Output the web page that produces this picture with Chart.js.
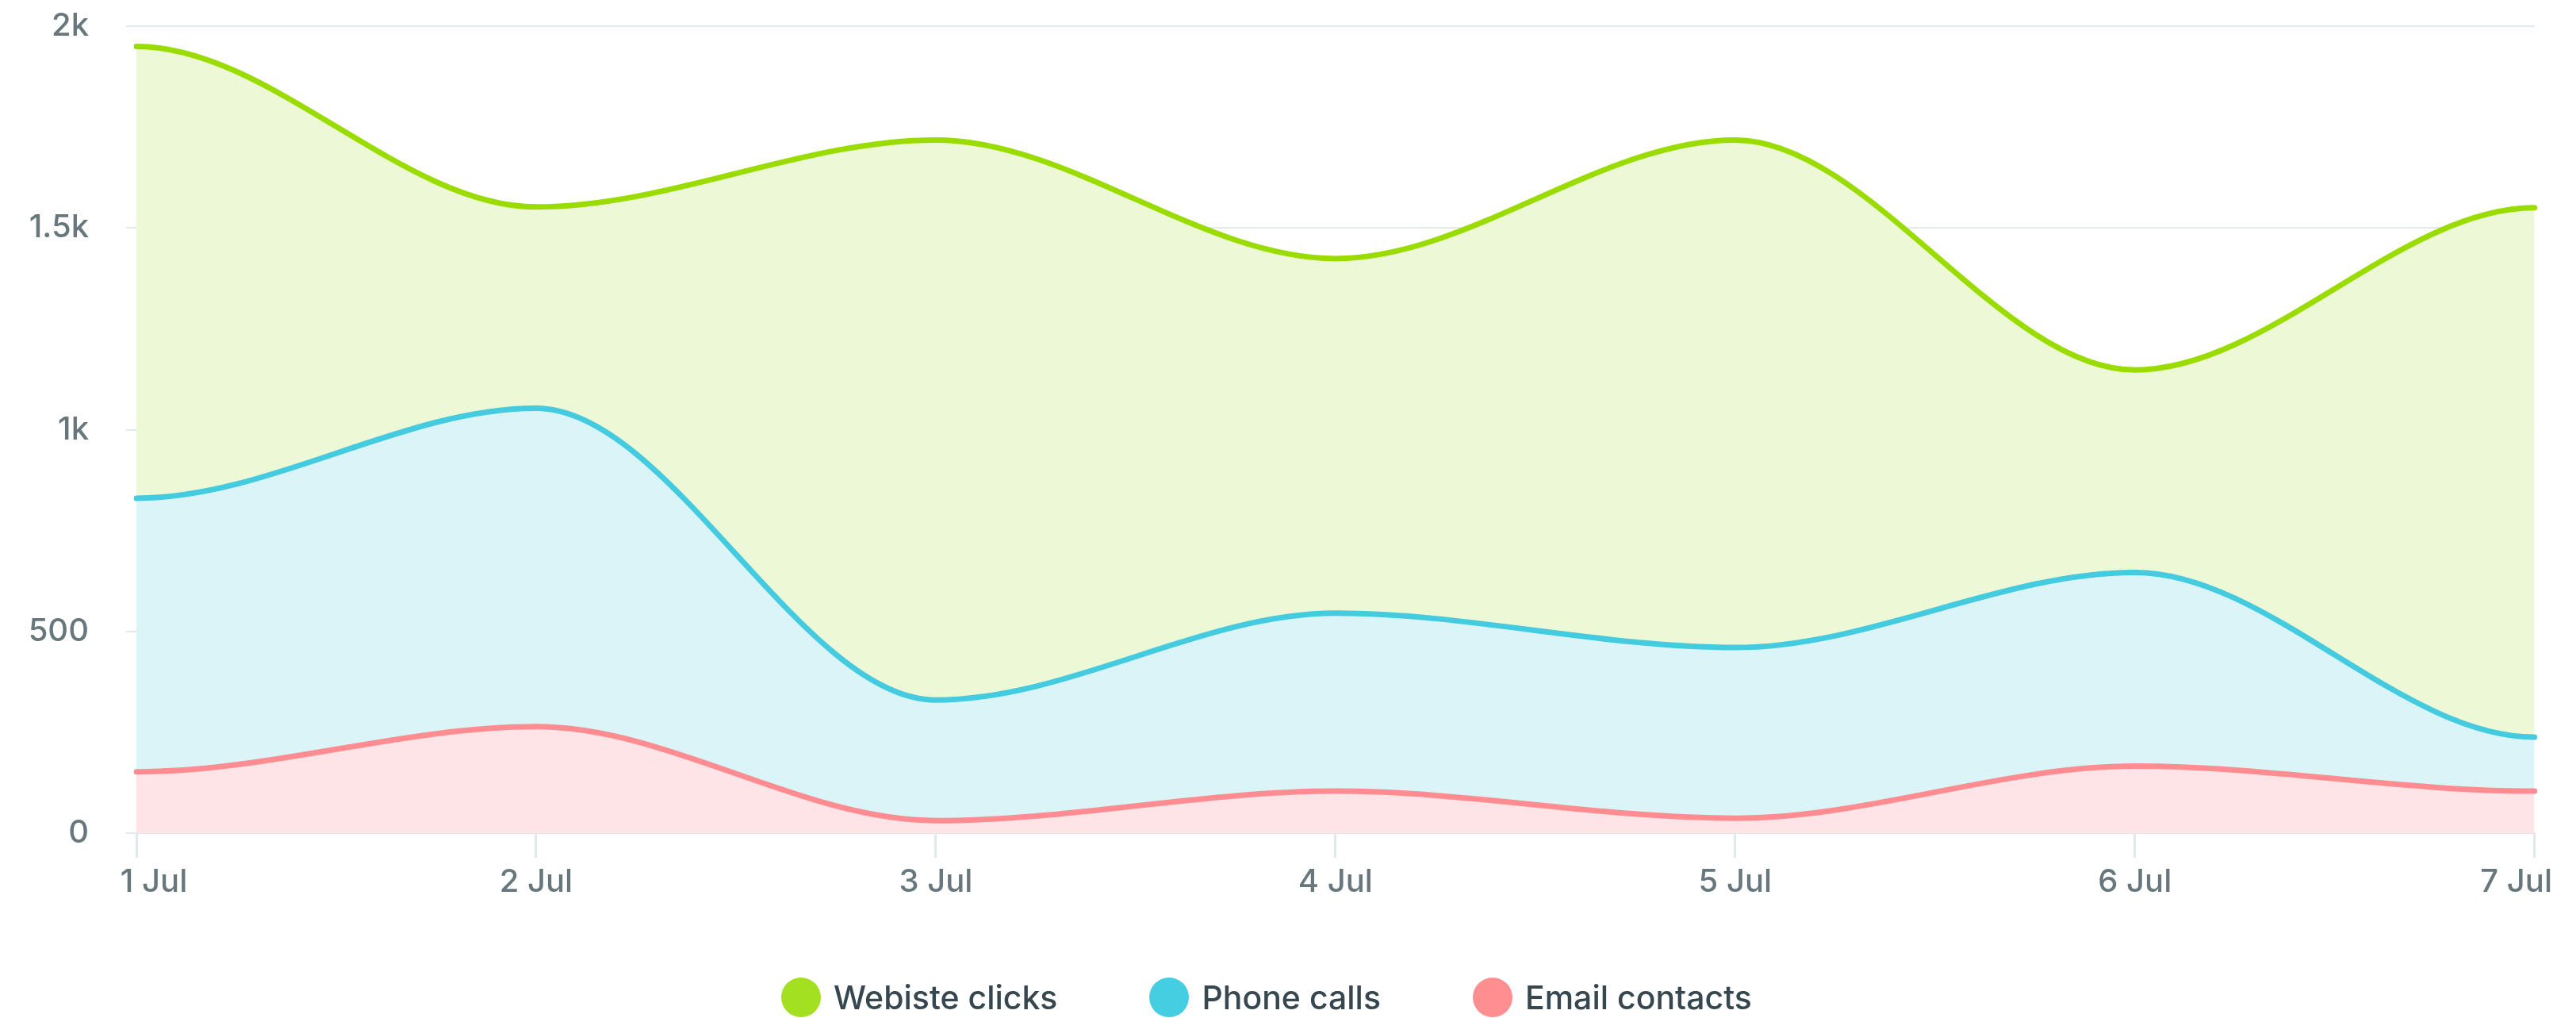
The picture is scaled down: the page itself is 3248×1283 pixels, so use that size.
<!DOCTYPE html>
<html>
<head>
<meta charset="utf-8">
<script src="https://cdn.jsdelivr.net/npm/chart.js@4.4.1/dist/chart.umd.min.js"></script>
<style>
  body { margin: 0; background: #fff; }
  #wrap { position: relative; width: 3248px; height: 1283px; }
  #legend {
    position: absolute; left: 985px; top: 1232px;
    display: flex; align-items: center;
    font-family: Inter, sans-serif; font-size: 41px; font-weight: 500; color: #36474f;
  }
  .item { display: flex; align-items: center; margin-right: 116px; }
  .dot { width: 50px; height: 50px; border-radius: 50%; margin-right: 16px; }
</style>
</head>
<body>
<div id="wrap">
  <canvas id="myChart" width="3248" height="1283"></canvas>
  <div id="legend"></div>
</div>
<script>
// данные
let labels = ['1 Jul', '2 Jul', '3 Jul', '4 Jul', '5 Jul', '6 Jul', '7 Jul'];
let websiteClicks = [1950, 1552, 1718, 1424, 1718, 1148, 1550];
let phoneCalls = [830, 1053, 330, 545, 460, 646, 238];
let emailContacts = [152, 264, 31, 104, 37, 166, 104];

let names = ['Webiste clicks', 'Phone calls', 'Email contacts'];
let lineColors = ['#9bdc00', '#45cbe0', '#ff8c91'];
let fillColors = ['#edf8d7', '#dbf4f8', '#fee4e7'];
let dotColors = ['#a4e022', '#45cde2', '#ff8e91'];

let axisColor = '#67777c';
let gridColor = '#e0e9ec';

// мелкие правки отрисовки: плоские концы линий и крайние подписи ближе к центру
const tweaks = {
  id: 'tweaks',
  beforeDraw(chart) {
    chart.getSortedVisibleDatasetMetas().forEach(meta => {
      let line = meta.dataset;
      line.updateControlPoints(chart.chartArea, 'x');
      let pts = line.points;
      if (!pts.length) return;
      pts[0].cp2y = pts[0].y;
      pts[pts.length - 1].cp1y = pts[pts.length - 1].y;
    });
    let xs = chart.scales.x;
    let items = xs.getLabelItems(chart.chartArea);
    if (items.length && !items.shifted) {
      items[0].options.translation[0] += 22;
      items[items.length - 1].options.translation[0] -= 23;
      items.shifted = true;
    }
  }
};

function makeSet(i, values, fill) {
  return {
    label: names[i],
    data: values,
    borderColor: lineColors[i],
    backgroundColor: fillColors[i],
    borderWidth: 7,
    borderCapStyle: 'round',
    pointRadius: 0,
    cubicInterpolationMode: 'monotone',
    fill: fill
  };
}

let tickFont = { family: 'Inter', size: 40, weight: '500' };

let myChart = new Chart(document.getElementById('myChart'), {
  type: 'line',
  data: {
    labels: labels,
    datasets: [
      makeSet(0, websiteClicks, '+1'),
      makeSet(1, phoneCalls, '+1'),
      makeSet(2, emailContacts, 'origin')
    ]
  },
  options: {
    responsive: false,
    animation: false,
    layout: { padding: { left: 0, right: 45, top: 33, bottom: 148 } },
    plugins: {
      legend: { display: false },
      tooltip: { enabled: false },
      filler: { drawTime: 'beforeDatasetsDraw' }
    },
    scales: {
      x: {
        grid: { drawOnChartArea: false, drawTicks: true, tickLength: 31, color: gridColor, lineWidth: 3 },
        border: { display: true, color: gridColor, width: 2 },
        ticks: { color: axisColor, font: tickFont, padding: 7, maxRotation: 0 },
        afterFit(scale) { scale.height = 85; }
      },
      y: {
        min: 0,
        max: 2000,
        grid: { color: gridColor, lineWidth: 2, tickLength: 13 },
        border: { display: false },
        ticks: {
          stepSize: 500,
          color: axisColor,
          font: tickFont,
          padding: 47,
          callback: v => v >= 1000 ? (v / 1000) + 'k' : v
        },
        afterFit(scale) {
          scale.width = 172;
          scale.paddingTop = 0;
          scale.paddingBottom = 0;
        }
      }
    }
  },
  plugins: [tweaks]
});

// легенда
let legend = document.getElementById('legend');
myChart.data.datasets.forEach((ds, i) => {
  let item = document.createElement('div');
  item.className = 'item';
  let dot = document.createElement('span');
  dot.className = 'dot';
  dot.style.background = dotColors[i];
  let txt = document.createElement('span');
  txt.textContent = ds.label;
  item.appendChild(dot);
  item.appendChild(txt);
  legend.appendChild(item);
});
</script>
</body>
</html>
